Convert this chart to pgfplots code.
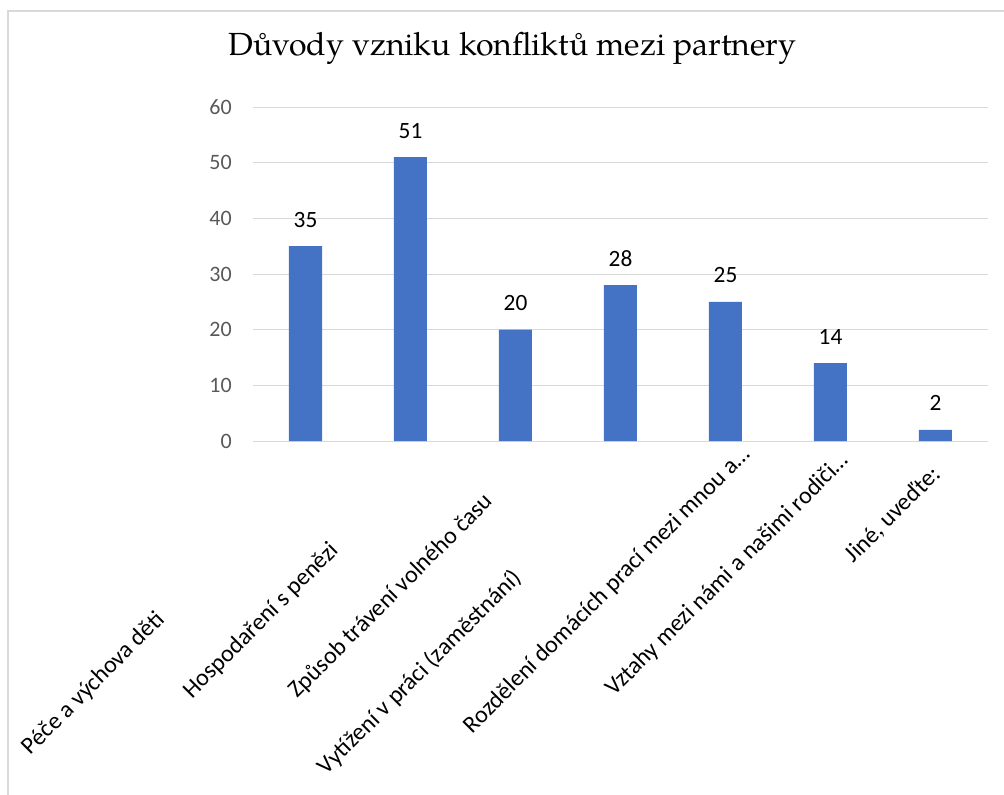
\documentclass[border=0pt]{standalone}
\usepackage{fontspec}
\setmainfont{Carlito}
\newfontfamily\titlefont{TeX Gyre Pagella}
\usepackage{pgfplots}
\pgfplotsset{compat=1.18}
\definecolor{barblue}{HTML}{4472C4}
\definecolor{gridgray}{HTML}{D9D9D9}
\definecolor{ticktext}{HTML}{595959}
\begin{document}
\begin{tikzpicture}
\useasboundingbox (0pt,0pt) rectangle (753pt,-595.5pt);
\draw[gridgray, line width=1.5pt] (6pt,-600pt) -- (6pt,-8.25pt) -- (760pt,-8.25pt);
\begin{axis}[
  at={(189.75pt,-330.75pt)}, anchor=south west,
  scale only axis, width=551.25pt, height=250.5pt,
  xmin=-0.5, xmax=6.5, ymin=0, ymax=60,
  ytick={0,10,...,60},
  xtick={0,...,6},
  /pgf/number format/assume math mode=true,
  xticklabels={Péče a výchova děti\hspace*{153pt}, Hospodaření s penězi\hspace*{79.5pt}, Způsob trávení volného času\hspace*{27.75pt}, Vytížení v práci (zaměstnání)\hspace*{108.75pt}, Rozdělení domácích prací mezi mnou a…\hspace*{-22.5pt}, Vztahy mezi námi a našimi rodiči…\hspace*{-15.75pt}, {Jiné, uveďte:\hspace*{-1.5pt}}},
  axis lines*=left,
  axis line style={draw=none},
  tick style={draw=none},
  major tick length=0pt,
  ymajorgrids,
  major grid style={gridgray, line width=0.75pt},
  yticklabel style={font=\fontsize{16.5}{18}\selectfont, text=ticktext, anchor=east, inner sep=0pt, xshift=-15.75pt},
  xticklabel shift=23.25pt,
  xticklabel style={rotate=45, anchor=east, inner sep=0pt, font=\fontsize{18}{20}\selectfont, text=black},
  title={Důvody vzniku konfliktů mezi partnery},
  title style={font=\titlefont\fontsize{24}{28}\selectfont, at={(axis description cs:0.353,1.1317)}, anchor=base, inner sep=0pt, yshift=0pt},
  nodes near coords,
  nodes near coords style={font=\fontsize{17.5}{20}\selectfont, text=black, anchor=base, yshift=14.25pt, inner sep=0pt},
]
\addplot[ybar, bar width=24.75pt, fill=barblue, draw=none] coordinates {(0,35) (1,51) (2,20) (3,28) (4,25) (5,14) (6,2)};
\end{axis}
\end{tikzpicture}
\end{document}
